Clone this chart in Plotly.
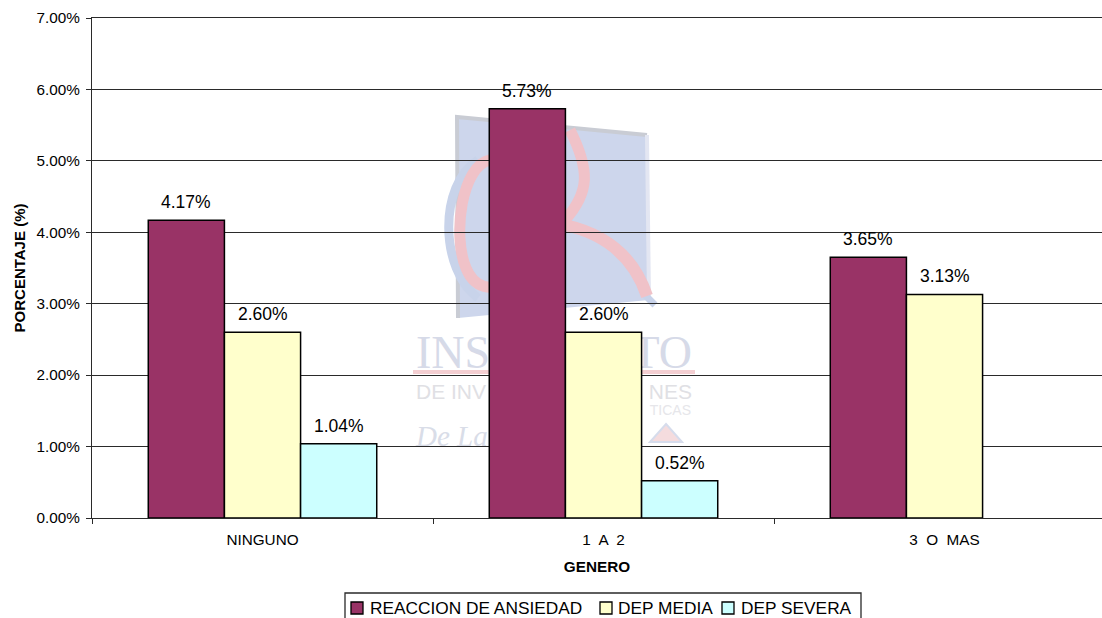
import plotly.graph_objects as go

categories = ["NINGUNO", "1  A  2", "3  O  MAS"]
series_names = ["REACCION DE ANSIEDAD", "DEP MEDIA", "DEP SEVERA"]
ansiedad = [0.0417, 0.0573, 0.0365]
media = [0.0260, 0.0260, 0.0313]
severa = [0.0104, 0.0052, None]
colors = ["#993366", "#FFFFCC", "#CCFFFF"]
y_ticks = [0, 0.01, 0.02, 0.03, 0.04, 0.05, 0.06, 0.07]

W, H = 1102, 618
L, T, B = 92, 18, 518
BARGAP = 0.33
FONT = "Liberation Sans, Arial, sans-serif"
LINE = "#2a2a2a"


def px(x):
    return (x - L) / (W - L)


def py(y):
    return (B - y) / (B - T)


def path(*cmds):
    out = []
    for c in cmds:
        if isinstance(c, str):
            out.append(c)
        else:
            out.append(f"{px(c[0]):.5f},{py(c[1]):.5f}")
    return " ".join(out)


CLEAR = "rgba(0,0,0,0)"
shapes = []


def wm_path(fill, line_color, width, *cmds):
    shapes.append(dict(type="path", xref="paper", yref="paper", layer="below",
                       path=path(*cmds), fillcolor=fill,
                       line=dict(color=line_color, width=width)))


# Watermark drawn behind the plot
wm_path("#cdd6ec", CLEAR, 0, "M", (457, 117), "L", (647, 135), "L", (649, 300), "L", (458, 318), "Z")
wm_path(CLEAR, "#c9ccd4", 4, "M", (647, 135), "L", (457, 117), "L", (458, 318))
wm_path(CLEAR, "#e3e6f2", 4, "M", (647, 135), "L", (649, 300))
wm_path(CLEAR, "#c8d3ea", 9, "M", (478, 160), "C", (438, 185), (440, 270), (478, 298))
wm_path(CLEAR, "#f0c2c8", 11, "M", (490, 160), "C", (462, 165), (452, 235), (466, 268),
        "C", (474, 288), (492, 292), (505, 282))
wm_path(CLEAR, "#f0c2c8", 11, "M", (570, 130), "C", (590, 170), (590, 192), (565, 220))
wm_path(CLEAR, "#c8d3ea", 7, "M", (645, 295), "L", (655, 305))
wm_path(CLEAR, "#f0c2c8", 12, "M", (565, 225), "C", (610, 235), (635, 260), (647, 296))
shapes.append(dict(type="rect", xref="paper", yref="paper", layer="below",
                   x0=px(413), x1=px(695), y0=py(374), y1=py(370),
                   fillcolor="#f4cfd2", line=dict(width=0)))
wm_path("#f5dcde", "#d6dcec", 2, "M", (666, 424), "L", (682, 442), "L", (650, 442), "Z")


def wm_text(text, x0, x1, y0, y1, size, color, anchor, family="Liberation Serif", italic=False):
    shapes.append(dict(type="rect", xref="paper", yref="paper", layer="below",
                       x0=px(x0), x1=px(x1), y0=py(y1), y1=py(y0),
                       fillcolor=CLEAR, line=dict(width=0),
                       label=dict(text=text, textposition=f"middle {anchor}", padding=0,
                                  font=dict(family=family, size=size, color=color,
                                            style="italic" if italic else "normal"))))


wm_text("INS", 413, 500, 330, 364, 46, "#d6dae8", "left")
wm_text("TO", 640, 695, 330, 364, 46, "#d6dae8", "right")
wm_text("DE INV", 413, 500, 380, 398, 21, "#e0e0e4", "left", FONT)
wm_text("NES", 640, 695, 380, 398, 21, "#e0e0e4", "right", FONT)
wm_text("TICAS", 640, 694, 401, 416, 14, "#e6e6ea", "right", FONT)
wm_text("De La", 413, 490, 420, 446, 29, "#d9dde8", "left", "Liberation Serif", True)

series_values = [ansiedad, media, severa]
fig = go.Figure()
for name, vals, col in zip(series_names, series_values, colors):
    fig.add_trace(go.Bar(
        name=name, x=categories, y=vals,
        marker=dict(color=col, line=dict(color="#000000", width=1.5)),
        showlegend=False,
    ))

annotations = []
# Value labels sit a fixed distance above each bar; x is the centre of the grouped bar
group_w = (1 - BARGAP) / len(series_values)
for j, vals in enumerate(series_values):
    for i, v in enumerate(vals):
        if v is None:
            continue
        annotations.append(dict(
            x=i + (j - (len(series_values) - 1) / 2) * group_w, y=v, xref="x", yref="y",
            text=f"{v:.2%}", showarrow=False, xanchor="center", yanchor="middle", yshift=18,
            font=dict(family=FONT, size=17.5, color="#000000"),
        ))

# Legend box, clipped by the bottom of the picture as in the reference
shapes.append(dict(type="rect", xref="paper", yref="paper", layer="above",
                   x0=px(345), x1=px(861), y0=py(593), y1=py(640),
                   fillcolor="#ffffff", line=dict(color=LINE, width=1.3)))
swatch_x = [351, 600, 722]
text_x = [369, 617, 740]
for name, col, sx, tx in zip(series_names, colors, swatch_x, text_x):
    shapes.append(dict(type="rect", xref="paper", yref="paper", layer="above",
                       x0=px(sx), x1=px(sx + 12), y0=py(614), y1=py(602),
                       fillcolor=col, line=dict(color="#000000", width=1.3)))
    annotations.append(dict(
        x=px(tx), y=py(608), xref="paper", yref="paper", text=name, showarrow=False,
        xanchor="left", yanchor="middle", xshift=-1,
        font=dict(family=FONT, size=17.3, color="#000000"),
    ))

fig.update_layout(
    width=W, height=H,
    margin=dict(l=L, r=0, t=T, b=H - B, autoexpand=False),
    paper_bgcolor="#ffffff", plot_bgcolor=CLEAR,
    barmode="group", bargap=BARGAP, bargroupgap=0,
    font=dict(family=FONT, color="#000000"),
    showlegend=False,
    shapes=shapes, annotations=annotations,
)
fig.update_xaxes(
    type="category", range=[-0.5, (W - L) / 341 - 0.5], tickson="boundaries",
    ticks="outside", ticklen=5, tickcolor=LINE, tickwidth=1,
    showline=True, linecolor=LINE, linewidth=1, mirror=True, showgrid=False,
    ticklabelstandoff=8,
    tickfont=dict(family=FONT, size=15.3, color="#000000"),
    title=dict(text="<b>GENERO</b>", font=dict(family=FONT, size=15.3, color="#000000"), standoff=13),
)
fig.update_yaxes(
    range=[0, 0.07], tickvals=y_ticks, tickformat=".2%",
    ticks="outside", ticklen=5, tickcolor=LINE, tickwidth=1,
    showline=True, linecolor=LINE, linewidth=1,
    showgrid=True, gridcolor=LINE, gridwidth=1, zeroline=False,
    ticklabelstandoff=3,
    tickfont=dict(family=FONT, size=15.3, color="#000000"),
    title=dict(text="<b>PORCENTAJE (%)</b>", font=dict(family=FONT, size=15, color="#000000"), standoff=7),
)

fig.write_html("out.html", config=dict(displayModeBar=False),
               post_script="document.body.style.margin='0';document.body.style.overflow='hidden';")
